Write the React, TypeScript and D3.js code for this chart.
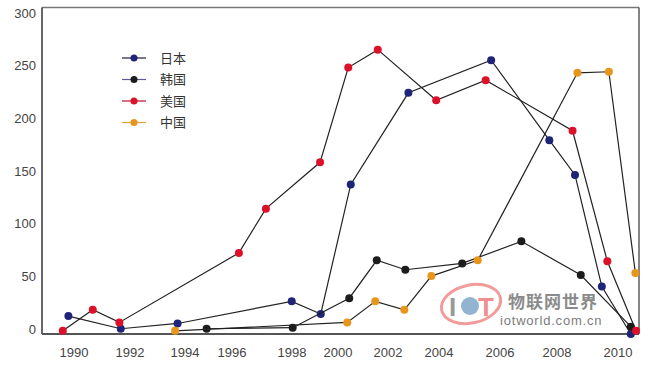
import React from 'react';
import * as d3 from 'd3';

// 数据：年份（按图中位置估读）与数值
const japanYears = [1989.8, 1991.67, 1993.73, 1997.99, 1999.25, 2000.51, 2002.8, 2005.71, 2007.73, 2008.59, 2009.47, 2010.42];
const japanValues = [12, 0, 5, 26, 14, 137, 224, 255, 179, 146, 40, -5];

const koreaYears = [1994.92, 1998.03, 2000.45, 2001.55, 2002.68, 2004.76, 2006.75, 2008.78, 2010.42];
const koreaValues = [0, 1, 29, 65, 56, 62, 83, 51, 2];

const usaYears = [1989.6, 1990.67, 1991.62, 1996.23, 1997.13, 1999.22, 2000.41, 2001.59, 2003.89, 2005.53, 2008.51, 2009.65, 2010.59];
const usaValues = [-2, 18, 6, 72, 114, 158, 248, 265, 217, 236, 188, 64, -2];

const chinaYears = [1993.64, 2000.37, 2001.49, 2002.64, 2003.7, 2005.27, 2008.67, 2009.7, 2010.57];
const chinaValues = [-2, 6, 26, 18, 50, 65, 243, 244, 53];

const xTicks = [1990, 1992, 1994, 1996, 1998, 2000, 2002, 2004, 2006, 2008, 2010];
const yTicks = [0, 50, 100, 150, 200, 250, 300];

const series = [
  { name: '日本', years: japanYears, values: japanValues, dot: '#1f2478', legendLine: '#1c1c3a' },
  { name: '韩国', years: koreaYears, values: koreaValues, dot: '#1c1c1c', legendLine: '#5c5c98' },
  { name: '美国', years: usaYears, values: usaValues, dot: '#dc1028', legendLine: '#b8102a' },
  { name: '中国', years: chinaYears, values: chinaValues, dot: '#e8951c', legendLine: '#e0a23a' },
];

const W = 660;
const H = 368;
const left = 42, right = 639, top = 7.5, bottom = 334;

// 原图年份刻度间距不均匀，用分段线性比例尺
const xStops = [74, 130, 185, 232, 292, 338, 388, 439, 500, 557, 618];

const App = () => {
  const x = d3.scaleLinear().domain(xTicks).range(xStops);
  const y = d3.scaleLinear().domain([-5, 305]).range([bottom, top]);
  const line = d3.line<[number, number]>().x(d => x(d[0])).y(d => y(d[1]));

  const font = '"Liberation Sans", Arial, sans-serif';
  const cjk = '"Noto Sans CJK SC", sans-serif';

  return (
    <svg width={W} height={H} style={{ position: 'absolute', left: 0, top: 0, background: '#fff' }}>
      {/* 水印 */}
      <g opacity={0.85}>
        <ellipse cx={471} cy={304} rx={30} ry={19} fill="none" stroke="#f08a8a" strokeWidth={3}
          transform="rotate(-12 471 304)" />
        <text x={449} y={316} fontFamily={font} fontSize={26} fontWeight="bold" fill="#888">I</text>
        <circle cx={470} cy={306} r={9} fill="#7fa8c8" />
        <text x={478} y={316} fontFamily={font} fontSize={26} fontWeight="bold" fill="#f07a80">T</text>
        <text x={508} y={308} fontFamily={cjk} fontSize={17} fontWeight="bold" fill="#777" letterSpacing={1}>物联网世界</text>
        <text x={500} y={325} fontFamily={font} fontSize={13} fill="#666" letterSpacing={0.8}>iotworld.com.cn</text>
      </g>

      {/* 边框 */}
      <line x1={left} x2={right} y1={top} y2={top} stroke="#777" strokeWidth={1.5} />
      <line x1={right} x2={right} y1={top} y2={bottom} stroke="#333" strokeWidth={1.2} />
      <line x1={left} x2={left} y1={top} y2={bottom} stroke="#333" strokeWidth={1.5} />
      <line x1={left} x2={right} y1={bottom} y2={bottom} stroke="#555" strokeWidth={2} />

      {/* 坐标轴标签 */}
      {yTicks.map(t => (
        <text key={t} x={36} y={y(t) + 5} textAnchor="end" fontFamily={font} fontSize={13} fill="#444">{t}</text>
      ))}
      {xTicks.map(t => (
        <text key={t} x={x(t)} y={357} textAnchor="middle" fontFamily={font} fontSize={13} fill="#444">{t}</text>
      ))}

      {/* 折线 */}
      {series.map(s => {
        const pts = s.years.map((yr, i) => [yr, s.values[i]] as [number, number]);
        return (
          <g key={s.name}>
            <path d={line(pts) || ''} fill="none" stroke="#222" strokeWidth={1.2} />
            {pts.map((p, i) => (
              <circle key={i} cx={x(p[0])} cy={y(p[1])} r={4} fill={s.dot} />
            ))}
          </g>
        );
      })}

      {/* 图例 */}
      {series.map((s, i) => {
        const ly = 58 + i * 21.5;
        return (
          <g key={s.name}>
            <line x1={122} x2={146} y1={ly} y2={ly} stroke={s.legendLine} strokeWidth={1.2} />
            <circle cx={134} cy={ly} r={3.5} fill={s.dot} />
            <text x={160} y={ly + 4.5} fontFamily={cjk} fontSize={13} fill="#333">{s.name}</text>
          </g>
        );
      })}
    </svg>
  );
};

export default App;
